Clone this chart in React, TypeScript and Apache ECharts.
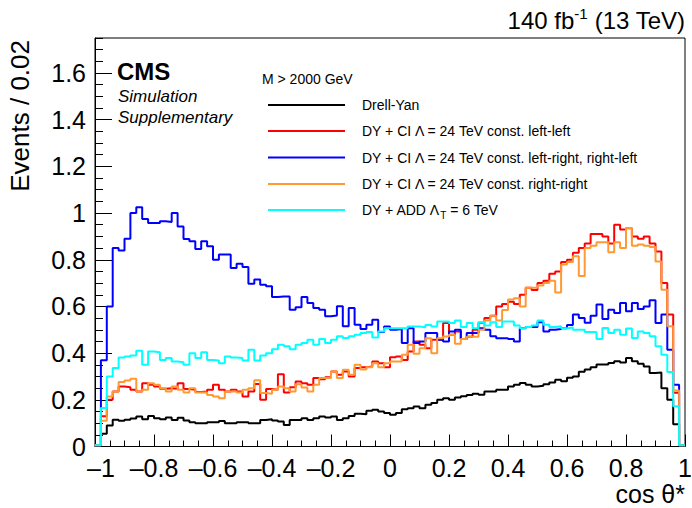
import React, { useEffect, useRef } from 'react';
import * as echarts from 'echarts';

// Histogram: 100 bins of width 0.02 on cos(theta*) in [-1, 1]
const BIN_LOW = -1;
const BIN_WIDTH = 0.02;

const drellYan = [
  0.005, 0.055, 0.09, 0.115, 0.11, 0.115, 0.12, 0.128, 0.117, 0.131,
  0.121, 0.117, 0.124, 0.114, 0.123, 0.111, 0.104, 0.1, 0.1, 0.104,
  0.104, 0.109, 0.1, 0.1, 0.104, 0.104, 0.1, 0.1, 0.114, 0.117,
  0.111, 0.107, 0.092, 0.114, 0.114, 0.121, 0.114, 0.121, 0.128, 0.124,
  0.128, 0.114, 0.121, 0.131, 0.14, 0.138, 0.153, 0.157, 0.15, 0.143,
  0.136, 0.143, 0.16, 0.164, 0.171, 0.164, 0.179, 0.186, 0.2, 0.207,
  0.2, 0.21, 0.215, 0.221, 0.226, 0.222, 0.236, 0.236, 0.243, 0.243,
  0.257, 0.265, 0.272, 0.264, 0.257, 0.26, 0.267, 0.274, 0.286, 0.28,
  0.294, 0.3, 0.32, 0.33, 0.34, 0.351, 0.351, 0.358, 0.365, 0.36,
  0.379, 0.365, 0.355, 0.343, 0.315, 0.317, 0.25, 0.2, 0.095, 0.005,
];

const ciLeftLeft = [
  0.005, 0.13, 0.2, 0.236, 0.257, 0.254, 0.243, 0.236, 0.271, 0.264,
  0.257, 0.247, 0.25, 0.247, 0.271, 0.246, 0.243, 0.233, 0.236, 0.243,
  0.264, 0.243, 0.236, 0.243, 0.236, 0.214, 0.236, 0.268, 0.2, 0.246,
  0.243, 0.31, 0.231, 0.254, 0.278, 0.271, 0.264, 0.293, 0.288, 0.297,
  0.321, 0.307, 0.321, 0.3, 0.336, 0.34, 0.343, 0.364, 0.357, 0.34,
  0.382, 0.386, 0.371, 0.407, 0.45, 0.436, 0.421, 0.457, 0.457, 0.529,
  0.479, 0.493, 0.46, 0.47, 0.5, 0.53, 0.55, 0.56, 0.6, 0.61,
  0.62, 0.61, 0.65, 0.68, 0.67, 0.7, 0.71, 0.74, 0.75, 0.79,
  0.8, 0.83, 0.85, 0.87, 0.91, 0.91, 0.9, 0.87, 0.95, 0.93,
  0.935, 0.9, 0.89, 0.9, 0.87, 0.835, 0.7, 0.565, 0.23, 0.005,
];

const ciLeftRight = [
  0.005, 0.37, 0.6, 0.85, 0.84, 0.89, 1.0, 1.025, 0.975, 0.958,
  0.958, 0.965, 0.962, 1.0, 0.943, 0.889, 0.879, 0.846, 0.879, 0.858,
  0.8, 0.822, 0.822, 0.765, 0.783, 0.769, 0.697, 0.715, 0.693, 0.686,
  0.64, 0.643, 0.643, 0.586, 0.597, 0.64, 0.615, 0.593, 0.586, 0.558,
  0.561, 0.601, 0.515, 0.593, 0.522, 0.503, 0.522, 0.543, 0.49, 0.514,
  0.5, 0.503, 0.443, 0.507, 0.443, 0.45, 0.486, 0.486, 0.457, 0.45,
  0.493, 0.5, 0.46, 0.486, 0.486, 0.507, 0.5, 0.472, 0.464, 0.464,
  0.46, 0.45, 0.507, 0.512, 0.512, 0.532, 0.493, 0.5, 0.503, 0.507,
  0.52, 0.565, 0.55, 0.53, 0.56, 0.608, 0.546, 0.586, 0.572, 0.615,
  0.579, 0.615, 0.589, 0.6, 0.626, 0.529, 0.565, 0.415, 0.265, 0.005,
];

const ciRightRight = [
  0.005, 0.11, 0.214, 0.236, 0.276, 0.283, 0.29, 0.236, 0.243, 0.271,
  0.264, 0.25, 0.236, 0.257, 0.243, 0.231, 0.25, 0.231, 0.231, 0.221,
  0.214, 0.207, 0.236, 0.236, 0.231, 0.243, 0.25, 0.284, 0.229, 0.226,
  0.243, 0.257, 0.25, 0.236, 0.267, 0.253, 0.236, 0.264, 0.293, 0.293,
  0.321, 0.293, 0.329, 0.307, 0.35, 0.33, 0.34, 0.357, 0.34, 0.357,
  0.364, 0.364, 0.393, 0.436, 0.397, 0.421, 0.464, 0.4, 0.464, 0.471,
  0.479, 0.44, 0.46, 0.47, 0.47, 0.5, 0.54, 0.56, 0.54, 0.585,
  0.63, 0.635, 0.6, 0.68, 0.68, 0.69, 0.7, 0.71, 0.66, 0.78,
  0.79, 0.815, 0.73, 0.85, 0.86, 0.875, 0.875, 0.832, 0.875, 0.85,
  0.936, 0.86, 0.865, 0.86, 0.855, 0.793, 0.672, 0.515, 0.24, 0.005,
];

const addLambdaT6 = [
  0.005, 0.165, 0.3, 0.336, 0.381, 0.386, 0.39, 0.41, 0.35, 0.407,
  0.404, 0.371, 0.379, 0.364, 0.361, 0.35, 0.4, 0.379, 0.404, 0.371,
  0.368, 0.357, 0.386, 0.381, 0.379, 0.368, 0.414, 0.368, 0.39, 0.4,
  0.417, 0.436, 0.429, 0.417, 0.436, 0.443, 0.457, 0.436, 0.46, 0.443,
  0.457, 0.472, 0.465, 0.472, 0.479, 0.486, 0.49, 0.467, 0.493, 0.507,
  0.507, 0.507, 0.507, 0.514, 0.514, 0.511, 0.521, 0.514, 0.536, 0.536,
  0.529, 0.54, 0.512, 0.529, 0.507, 0.532, 0.518, 0.532, 0.512, 0.536,
  0.536, 0.518, 0.507, 0.512, 0.518, 0.54, 0.522, 0.512, 0.515, 0.507,
  0.51, 0.5, 0.5, 0.49, 0.49, 0.46, 0.508, 0.486, 0.5, 0.479,
  0.505, 0.465, 0.493, 0.486, 0.472, 0.43, 0.393, 0.319, 0.172, 0.005,
];

const seriesNames = [
  'Drell-Yan',
  'DY + CI \u039B = 24 TeV const. left-left',
  'DY + CI \u039B = 24 TeV const. left-right, right-left',
  'DY + CI \u039B = 24 TeV const. right-right',
  'DY + ADD \u039B_T = 6 TeV',
];
const seriesValues = [drellYan, ciLeftLeft, ciLeftRight, ciRightRight, addLambdaT6];
const seriesColors = ['#000000', '#ff0000', '#0000ff', '#ff9933', '#00ffff'];

const FONT = "'Liberation Sans', Arial, Helvetica, sans-serif";

function toStepData(values: number[]) {
  const pts = values.map((v, i) => [BIN_LOW + i * BIN_WIDTH, v]);
  pts.push([BIN_LOW + values.length * BIN_WIDTH, values[values.length - 1]]);
  return pts;
}

function fmtX(v: number) {
  const r = Math.round(v * 10) / 10;
  if (r === 0) return '0';
  if (r === -1) return '{first|\u20131}';
  return r < 0 ? '\u2013' + String(Math.abs(r)) : String(r);
}

export default function App() {
  const ref = useRef<HTMLDivElement>(null);

  useEffect(() => {
    if (!ref.current) return;
    const chart = echarts.init(ref.current, undefined, { renderer: 'svg' });

    const legendRowsY = [105, 131, 157.5, 184, 210];
    const legendGraphics: any[] = [];
    seriesNames.forEach((name, i) => {
      legendGraphics.push({
        type: 'line',
        shape: { x1: 268, y1: legendRowsY[i], x2: 345, y2: legendRowsY[i] },
        style: { stroke: seriesColors[i], lineWidth: 2 },
      });
      const isAdd = name.indexOf('_T') >= 0;
      const text = isAdd
        ? '{n|DY + ADD \u039B}{sub|T}{n| = 6 TeV}'
        : '{n|' + name + '}';
      legendGraphics.push({
        type: 'text',
        x: 362,
        y: legendRowsY[i],
        style: {
          text,
          fill: '#000',
          textVerticalAlign: 'middle',
          verticalAlign: 'middle',
          rich: {
            n: { fontFamily: FONT, fontSize: 14, lineHeight: 20, fill: '#000' },
            sub: { fontFamily: FONT, fontSize: 10, lineHeight: 10, verticalAlign: 'bottom', fill: '#000' },
          },
        },
      });
    });

    const option: any = {
      animation: false,
      grid: {
        left: 95,
        right: 7,
        top: 38,
        bottom: 61.5,
        show: true,
        borderColor: '#000',
        borderWidth: 1,
        backgroundColor: 'transparent',
        containLabel: false,
        outerBoundsMode: 'none',
      },
      xAxis: {
        type: 'value',
        min: -1,
        max: 1,
        interval: 0.2,
        axisLine: { show: true, onZero: false, lineStyle: { color: '#000', width: 1 } },
        axisTick: { show: true, inside: true, length: 12, lineStyle: { color: '#000', width: 1 } },
        minorTick: { show: true, splitNumber: 4, length: 6, lineStyle: { color: '#000', width: 1 } },
        splitLine: { show: false },
        minorSplitLine: { show: false },
        axisLabel: {
          fontFamily: FONT,
          fontSize: 25,
          lineHeight: 18,
          color: '#000',
          margin: 12,
          formatter: fmtX,
          rich: {
            first: { fontFamily: FONT, fontSize: 25, lineHeight: 18, color: '#000', padding: [0, 0, 0, 12] },
          },
        },
      },
      yAxis: [
        {
          type: 'value',
          min: 0,
          max: 1.75,
          interval: 0.2,
          position: 'left',
          axisLine: { show: true, onZero: false, lineStyle: { color: '#000', width: 1 } },
          axisTick: { show: true, inside: true, length: 17, lineStyle: { color: '#000', width: 1 } },
          splitLine: { show: false },
          axisLabel: {
            fontFamily: FONT,
            fontSize: 25,
            lineHeight: 18,
            color: '#000',
            margin: 9,
            showMaxLabel: false,
          },
        },
        {
          type: 'value',
          min: 0,
          max: 1.75,
          interval: 0.05,
          position: 'left',
          offset: 0,
          axisLine: { show: false, onZero: false },
          axisTick: { show: true, inside: true, length: 8, lineStyle: { color: '#000', width: 1 } },
          splitLine: { show: false },
          axisLabel: { show: false },
        },
      ],
      series: seriesValues.map((vals, i) => ({
        name: seriesNames[i],
        type: 'line',
        step: 'end',
        symbol: 'none',
        showSymbol: false,
        xAxisIndex: 0,
        yAxisIndex: 0,
        data: toStepData(vals),
        lineStyle: { color: seriesColors[i], width: 2 },
        itemStyle: { color: seriesColors[i] },
        z: 2 + i,
      })),
      graphic: [
        {
          type: 'text',
          x: 685,
          y: 20,
          style: {
            text: '{n|140 fb}{s|-1}{n| (13 TeV)}',
            textAlign: 'right',
            textVerticalAlign: 'middle',
            align: 'right',
            verticalAlign: 'middle',
            rich: {
              n: { fontFamily: FONT, fontSize: 24, lineHeight: 28, fill: '#000' },
              s: { fontFamily: FONT, fontSize: 15, lineHeight: 15, verticalAlign: 'top', fill: '#000' },
            },
          },
        },
        {
          type: 'text',
          x: 20,
          y: 40,
          rotation: Math.PI / 2,
          style: {
            text: 'Events / 0.02',
            fontFamily: FONT,
            fontSize: 26,
            fill: '#000',
            textAlign: 'right',
            align: 'right',
            textVerticalAlign: 'middle',
            verticalAlign: 'middle',
          },
        },
        {
          type: 'text',
          x: 685,
          y: 494,
          style: {
            text: 'cos \u03B8*',
            fontFamily: FONT,
            fontSize: 25,
            fill: '#000',
            textAlign: 'right',
            align: 'right',
            textVerticalAlign: 'middle',
            verticalAlign: 'middle',
          },
        },
        {
          type: 'text',
          x: 117,
          y: 71,
          style: {
            text: 'CMS',
            fontFamily: FONT,
            fontSize: 24,
            fontWeight: 'bold',
            fill: '#000',
            textVerticalAlign: 'middle',
            verticalAlign: 'middle',
          },
        },
        {
          type: 'text',
          x: 118,
          y: 96,
          style: {
            text: 'Simulation',
            fontFamily: FONT,
            fontSize: 17,
            fontStyle: 'italic',
            fill: '#000',
            textVerticalAlign: 'middle',
            verticalAlign: 'middle',
          },
        },
        {
          type: 'text',
          x: 118,
          y: 117,
          style: {
            text: 'Supplementary',
            fontFamily: FONT,
            fontSize: 17,
            fontStyle: 'italic',
            fill: '#000',
            textVerticalAlign: 'middle',
            verticalAlign: 'middle',
          },
        },
        {
          type: 'text',
          x: 262,
          y: 79,
          style: {
            text: 'M > 2000 GeV',
            fontFamily: FONT,
            fontSize: 14,
            fill: '#000',
            textVerticalAlign: 'middle',
            verticalAlign: 'middle',
          },
        },
        ...legendGraphics,
      ],
    };

    chart.setOption(option);
    return () => {
      chart.dispose();
    };
  }, []);

  return (
    <div
      ref={ref}
      style={{ position: 'fixed', left: 0, top: 0, width: 692, height: 508, background: '#fff' }}
    />
  );
}
